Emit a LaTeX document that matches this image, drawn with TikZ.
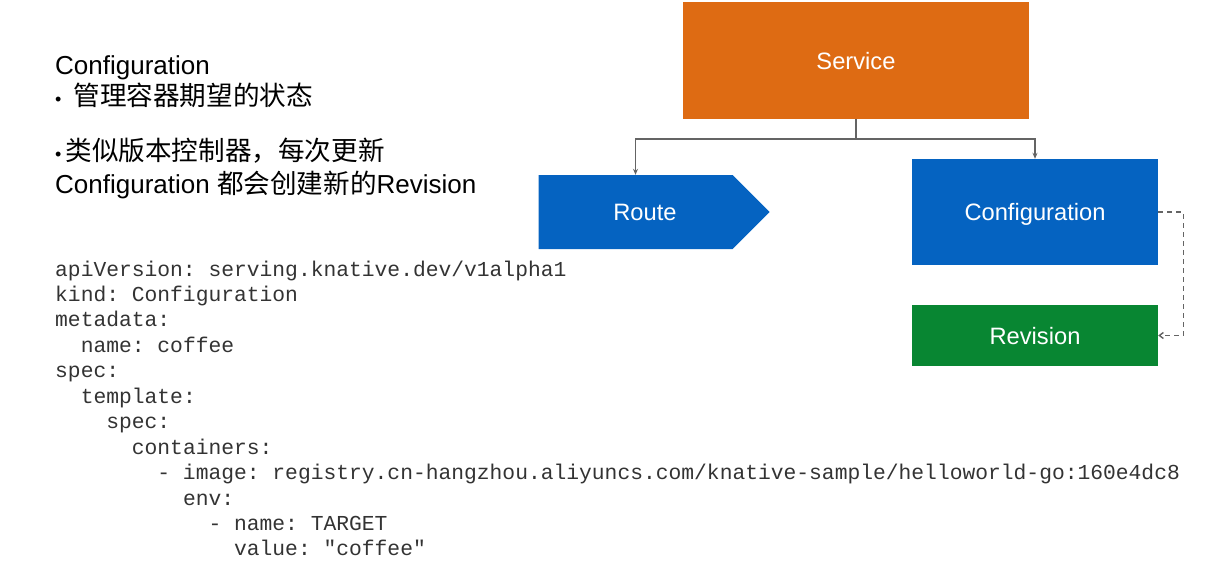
\documentclass[tikz,border=0pt]{standalone}
\usepackage{fontspec}
\setmainfont{Liberation Sans}
\setmonofont{Liberation Mono}
\newfontfamily\cjk{Noto Sans CJK SC}
\usetikzlibrary{arrows.meta}
\usetikzlibrary{shapes.symbols}
\definecolor{svcorange}{RGB}{222,107,19}
\definecolor{boxblue}{RGB}{5,99,193}
\definecolor{revgreen}{RGB}{8,134,50}
\definecolor{linegray}{RGB}{100,100,100}
\newcommand{\ind}[1]{\hspace*{#1\dimexpr12.78pt\relax}}

\begin{document}
\begin{tikzpicture}[x=1pt, y=-1pt,
    box/.style={rectangle, inner sep=0pt, text=white, text height=17pt, text depth=0pt, font=\fontsize{23.7}{28}\selectfont},
    note/.style={anchor=base west, inner sep=0pt, font=\fontsize{26}{30}\selectfont},
    code/.style={anchor=base west, inner sep=0pt, font=\ttfamily\fontsize{21.3}{25}\selectfont, text=black!80},
    conn/.style={draw=linegray, line width=1.2pt},
    tip/.style={conn, -{Stealth[length=6pt, width=5pt]}},
    dashtip/.style={draw=linegray, line width=1.4pt, dash pattern=on 5pt off 4pt, -{Straight Barb[length=4pt, width=6pt]}}]
  \useasboundingbox (0,0) rectangle (1229,565);

  % left hand text
  \node[note] (title) at (55,74) {Configuration};
  \node[note] (item1) at (55,105) {{\fontsize{18}{18}\selectfont •}\hspace{12pt}{\cjk\fontsize{26.6}{30}\selectfont 管理容器期望的状态}};
  \node[note] (item2) at (55,160) {{\fontsize{18}{18}\selectfont •}\hspace{4pt}{\cjk\fontsize{26.6}{30}\selectfont 类似版本控制器，每次更新}};
  \node[note] (item2b) at (55,193) {Configuration {\cjk\fontsize{26.6}{30}\selectfont 都会创建新的}Revision};

  % yaml
  \foreach \n/\txt [count=\i from 0] in {0/{apiVersion: serving.knative.dev/v1alpha1},
      0/{kind: Configuration}, 0/{metadata:}, 2/{name: coffee}, 0/{spec:},
      2/{template:}, 4/{spec:}, 6/{containers:},
      8/{- image: registry.cn-hangzhou.aliyuncs.com/knative-sample/helloworld-go:160e4dc8},
      10/{env:}, 12/{- name: TARGET}, 14/{value: "coffee"}}
    \node[code] (code\i) at (55,{276+25.45*\i}) {\ind{\n}\txt};

  % boxes
  \node[box, fill=svcorange, minimum width=346, minimum height=117] (service) at (856,60.5) {Service};
  \node[box, shape=signal, signal to=east, signal from=nowhere, signal pointer angle=90,
        fill=boxblue, minimum width=231, minimum height=74,
        label={[box, xshift=9.5pt]center:Route}] (route) at (635.5,212) {};
  \node[box, fill=boxblue, minimum width=246, minimum height=106] (config) at (1035,212) {Configuration};
  \node[box, fill=revgreen, minimum width=246, minimum height=61] (revision) at (1035,335.5) {Revision};

  % connectors
  \coordinate (split) at (856,139);
  \draw[conn] (service.south) -- (split);
  \draw[tip] (split) -| (route.north);
  \draw[tip] (split) -| (config.north);
  \draw[dashtip] (config.east) -- ++(25,0) |- (revision.east);
\end{tikzpicture}
\end{document}
